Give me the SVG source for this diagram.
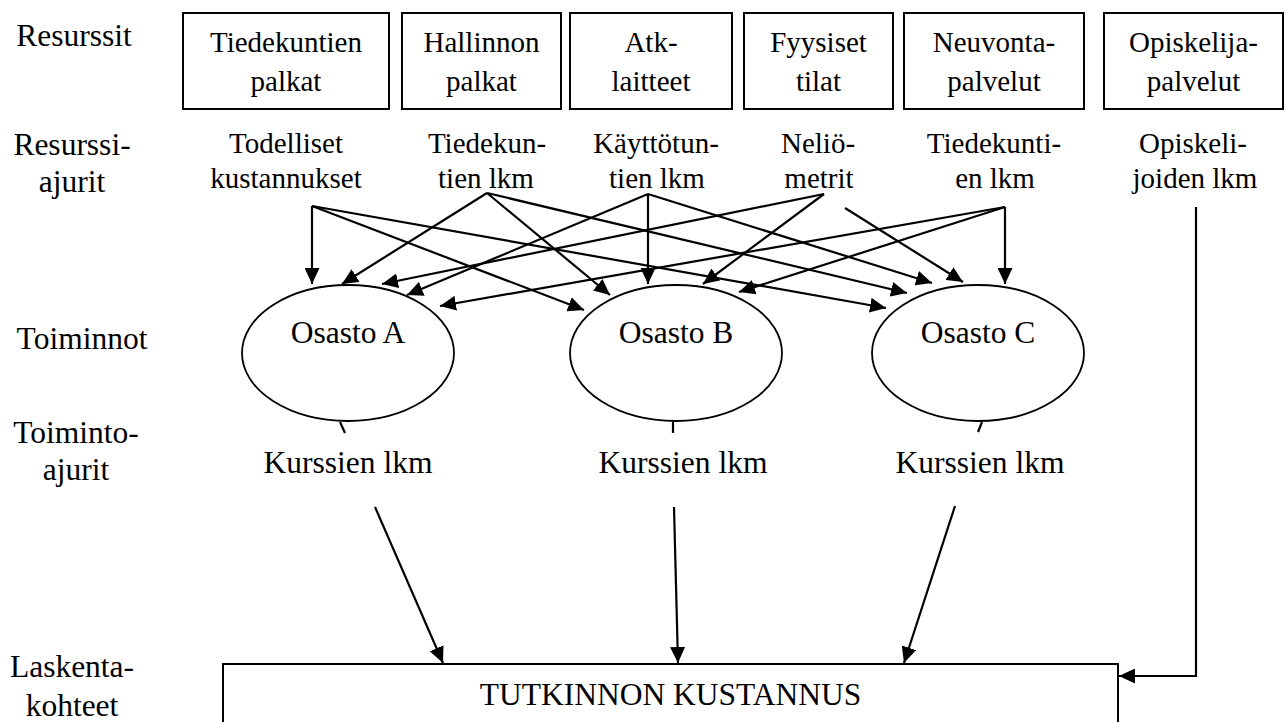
<svg xmlns="http://www.w3.org/2000/svg" width="1286" height="722" viewBox="0 0 1286 722" font-family="'Liberation Serif', Tinos, 'Times New Roman', 'DejaVu Serif', serif">
  <style>
    .t { font-family: "Liberation Serif", Tinos, "Times New Roman", "DejaVu Serif", serif; fill: #000; text-anchor: middle; }
    .s29 { font-size: 29px; }
    .s31 { font-size: 31.5px; }
    .box { fill: #fff; stroke: #000; stroke-width: 2; }
    .ell { fill: #fff; stroke: #000; stroke-width: 1.8; }
    .ln { fill: none; stroke: #000; stroke-width: 2.2; }
    .arr { marker-end: url(#head); }
  </style>
  <defs>
    <marker id="head" markerUnits="userSpaceOnUse" markerWidth="17" markerHeight="15" refX="16" refY="7.5" orient="auto">
      <path d="M0,0 L16,7.5 L0,15 z" fill="#000"/>
    </marker>
  </defs>

  <rect width="1286" height="722" fill="#fff"/>

  <!-- row labels -->
  <g id="row-labels" class="t s31">
    <text x="74" y="46">Resurssit</text>
    <text x="72" y="155">Resurssi-</text>
    <text x="72" y="192">ajurit</text>
    <text x="82" y="349">Toiminnot</text>
    <text x="76" y="443">Toiminto-</text>
    <text x="76" y="480">ajurit</text>
    <text x="72" y="677">Laskenta-</text>
    <text x="72" y="716">kohteet</text>
  </g>

  <!-- resources -->
  <g id="res-tiedekuntien-palkat">
    <rect class="box" x="183" y="13" width="206" height="96"/>
    <text class="t s29" x="286" y="52">Tiedekuntien</text>
    <text class="t s29" x="286" y="91">palkat</text>
  </g>
  <g id="res-hallinnon-palkat">
    <rect class="box" x="402" y="13" width="159" height="96"/>
    <text class="t s29" x="481.5" y="52">Hallinnon</text>
    <text class="t s29" x="481.5" y="91">palkat</text>
  </g>
  <g id="res-atk-laitteet">
    <rect class="box" x="570" y="13" width="162" height="96"/>
    <text class="t s29" x="651" y="52">Atk-</text>
    <text class="t s29" x="651" y="91">laitteet</text>
  </g>
  <g id="res-fyysiset-tilat">
    <rect class="box" x="744" y="13" width="149" height="96"/>
    <text class="t s29" x="818.5" y="52">Fyysiset</text>
    <text class="t s29" x="818.5" y="91">tilat</text>
  </g>
  <g id="res-neuvontapalvelut">
    <rect class="box" x="904" y="13" width="180" height="96"/>
    <text class="t s29" x="994" y="52">Neuvonta-</text>
    <text class="t s29" x="994" y="91">palvelut</text>
  </g>
  <g id="res-opiskelijapalvelut">
    <rect class="box" x="1104" y="13" width="179" height="96"/>
    <text class="t s29" x="1193.5" y="52">Opiskelija-</text>
    <text class="t s29" x="1193.5" y="91">palvelut</text>
  </g>

  <!-- resource drivers -->
  <g id="drv-todelliset">
    <text class="t s29" x="286" y="153">Todelliset</text>
    <text class="t s29" x="286" y="188">kustannukset</text>
  </g>
  <g id="drv-tiedekuntien-lkm">
    <text class="t s29" x="487" y="153">Tiedekun-</text>
    <text class="t s29" x="486" y="188">tien lkm</text>
  </g>
  <g id="drv-kayttotuntien-lkm">
    <text class="t s29" x="656" y="153">Käyttötun-</text>
    <text class="t s29" x="657" y="188">tien lkm</text>
  </g>
  <g id="drv-neliometrit">
    <text class="t s29" x="818" y="153">Neliö-</text>
    <text class="t s29" x="819" y="188">metrit</text>
  </g>
  <g id="drv-tiedekuntien-lkm-2">
    <text class="t s29" x="994" y="153">Tiedekunti-</text>
    <text class="t s29" x="995" y="188">en lkm</text>
  </g>
  <g id="drv-opiskelijoiden-lkm">
    <text class="t s29" x="1193" y="153">Opiskeli-</text>
    <text class="t s29" x="1195" y="188">joiden lkm</text>
  </g>

  <!-- activities -->
  <g id="act-osasto-a">
    <ellipse class="ell" cx="348" cy="353" rx="106" ry="68"/>
    <text class="t s31" x="348" y="343">Osasto A</text>
  </g>
  <g id="act-osasto-b">
    <ellipse class="ell" cx="676" cy="353" rx="106" ry="68"/>
    <text class="t s31" x="676" y="343">Osasto B</text>
  </g>
  <g id="act-osasto-c">
    <ellipse class="ell" cx="978" cy="353" rx="106" ry="68"/>
    <text class="t s31" x="978" y="343">Osasto C</text>
  </g>

  <!-- activity drivers -->
  <g id="adrv-a"><text class="t s31" x="348" y="473">Kurssien lkm</text></g>
  <g id="adrv-b"><text class="t s31" x="683" y="473">Kurssien lkm</text></g>
  <g id="adrv-c"><text class="t s31" x="980" y="473">Kurssien lkm</text></g>

  <!-- cost object -->
  <g id="obj-tutkinnon-kustannus">
    <rect class="box" x="223" y="664" width="895" height="80"/>
    <text class="t s31" x="670.5" y="705">TUTKINNON KUSTANNUS</text>
  </g>

  <!-- connectors -->
  <g id="connectors">
    <!-- Todelliset kustannukset -->
    <line class="ln arr" x1="312" y1="206" x2="312" y2="284"/>
    <line class="ln arr" x1="312" y1="206" x2="584" y2="310"/>
    <line class="ln arr" x1="312" y1="206" x2="886" y2="308"/>
    <!-- Tiedekuntien lkm -->
    <line class="ln arr" x1="487" y1="193" x2="342" y2="284"/>
    <line class="ln arr" x1="487" y1="193" x2="610" y2="295"/>
    <line class="ln arr" x1="487" y1="193" x2="907" y2="293"/>
    <!-- Käyttötuntien lkm -->
    <line class="ln arr" x1="648" y1="194" x2="407" y2="295"/>
    <line class="ln arr" x1="648" y1="194" x2="648" y2="284"/>
    <line class="ln arr" x1="648" y1="194" x2="932" y2="283"/>
    <!-- Neliömetrit -->
    <line class="ln arr" x1="824" y1="194" x2="382" y2="284"/>
    <line class="ln arr" x1="824" y1="194" x2="703" y2="284"/>
    <line class="ln arr" x1="845" y1="208" x2="963" y2="282"/>
    <!-- Tiedekuntien lkm (right) -->
    <line class="ln arr" x1="1005" y1="207" x2="440" y2="306"/>
    <line class="ln arr" x1="1005" y1="207" x2="739" y2="292"/>
    <line class="ln arr" x1="1005" y1="207" x2="1005" y2="284"/>
    <!-- Opiskelijoiden lkm -->
    <polyline class="ln arr" points="1196,207 1196,676 1119,676"/>
    <!-- stubs under activities -->
    <line class="ln" x1="340" y1="422" x2="345" y2="433"/>
    <line class="ln" x1="673" y1="422" x2="673" y2="433"/>
    <line class="ln" x1="982" y1="422" x2="978" y2="432"/>
    <!-- activity drivers to cost object -->
    <line class="ln arr" x1="375" y1="507" x2="443" y2="663"/>
    <line class="ln arr" x1="674" y1="507" x2="678" y2="663"/>
    <line class="ln arr" x1="955" y1="506" x2="904" y2="663"/>
  </g>
</svg>
